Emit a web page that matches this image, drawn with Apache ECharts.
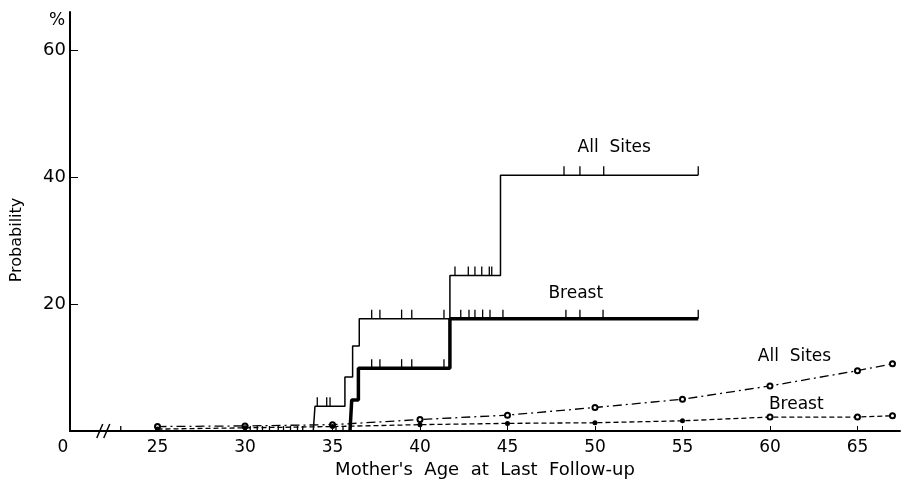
<!DOCTYPE html>
<html lang="en">
<head>
    <meta charset="UTF-8">
    <title>Probability by Mother's Age at Last Follow-up</title>
    <script src="https://cdn.jsdelivr.net/npm/echarts@6/dist/echarts.min.js"></script>
    <style>
        html, body { margin: 0; padding: 0; background: #fff; }
        #chart { width: 902px; height: 479px; }
    </style>
</head>
<body>
<div id="chart"></div>
<script>
    // observed step curves (age where the level starts, probability %)
    const allSitesAges = [33.9, 34.0, 35.71, 36.15, 36.53, 41.71, 44.6, 55.9];
    const allSitesProb = [0, 3.9, 8.5, 13.4, 17.7, 24.5, 40.3, 40.3];
    const breastAges = [36.0, 36.1, 36.48, 41.71, 55.9];
    const breastProb = [0, 4.9, 9.9, 17.7, 17.7];

    // censoring ticks [age, level]
    const allSitesCensored = [
        [34.13, 3.9], [34.67, 3.9], [34.86, 3.9],
        [37.24, 17.7], [37.71, 17.7], [38.95, 17.7], [39.53, 17.7], [41.37, 17.7],
        [42.0, 24.5], [42.76, 24.5], [43.14, 24.5], [43.53, 24.5], [43.96, 24.5], [44.1, 24.5],
        [48.23, 40.3], [49.14, 40.3], [50.5, 40.3], [55.9, 40.3]
    ];
    const breastCensored = [
        [37.24, 9.9], [37.71, 9.9], [38.95, 9.9], [39.53, 9.9], [41.37, 9.9],
        [42.33, 17.7], [42.8, 17.7], [43.14, 17.7], [43.58, 17.7], [44.0, 17.7], [44.74, 17.7],
        [48.34, 17.7], [49.14, 17.7], [50.46, 17.7], [55.9, 17.7]
    ];
    const baselineCensoredAges = [22.9, 30.3, 30.7, 31.0, 31.4, 31.9, 32.2, 32.6, 33.0, 33.3, 35.2, 35.6];

    // expected curves
    const expectedAges = [25, 30, 35, 40, 45, 50, 55, 60, 65, 67];
    const expectedAllSites = [0.7, 0.8, 1.0, 1.8, 2.5, 3.7, 5.0, 7.1, 9.5, 10.6];
    const expectedBreast = [0.3, 0.5, 0.7, 1.0, 1.2, 1.3, 1.6, 2.2, 2.2, 2.4];

    // curve labels [text, age, probability]
    const curveLabels = [
        ['All  Sites', 51.1, 44.7],
        ['Breast', 48.9, 21.7],
        ['All  Sites', 61.4, 11.8],
        ['Breast', 61.5, 4.2]
    ];

    const xTicks = [20, 25, 30, 35, 40, 45, 50, 55, 60, 65];
    const yTicks = [20, 40, 60];

    const font = 'DejaVu Sans';
    const zip = (xs, ys) => xs.map((x, i) => [x, ys[i]]);

    const tickSeries = (data) => ({
        type: 'scatter',
        data: data,
        symbol: 'rect',
        symbolSize: [1.3, 9],
        symbolOffset: [0, -4.5],
        itemStyle: { color: '#000', opacity: 1 },
        silent: true,
        z: 4
    });

    const chart = echarts.init(document.getElementById('chart'));
    const option = {
        animation: false,
        backgroundColor: '#fff',
        grid: { left: 70, right: 2, top: 12, bottom: 48, outerBoundsMode: 'none' },
        xAxis: {
            type: 'value',
            min: 20,
            max: 67.43,
            interval: 5,
            name: "Mother's  Age  at  Last  Follow-up",
            nameLocation: 'middle',
            nameGap: 25,
            nameTextStyle: { fontFamily: font, fontSize: 18, color: '#000' },
            axisLine: { lineStyle: { color: '#000', width: 2 } },
            axisTick: { inside: true, length: 5, customValues: xTicks.slice(1), lineStyle: { color: '#000' } },
            axisLabel: {
                customValues: xTicks,
                formatter: v => (v === 20 ? '{o|0}' : String(v)),
                rich: { o: { fontFamily: font, fontSize: 17, color: '#000', padding: [0, 14, 0, 0] } },
                fontFamily: font, fontSize: 17, color: '#000', margin: 8
            },
            splitLine: { show: false }
        },
        yAxis: {
            type: 'value',
            min: 0,
            max: 66,
            interval: 20,
            axisLine: { show: true, lineStyle: { color: '#000', width: 2 } },
            axisTick: { show: true, inside: true, length: 8, customValues: yTicks, lineStyle: { color: '#000' } },
            axisLabel: { customValues: yTicks, fontFamily: font, fontSize: 18, color: '#000', margin: 4 },
            splitLine: { show: false }
        },
        graphic: [
            { type: 'text', left: 49, top: 12, style: { text: '%', font: '17px ' + font, fill: '#000' } },
            {
                type: 'text', x: 17, y: 240, rotation: Math.PI / 2,
                style: { text: 'Probability', font: '16px ' + font, fill: '#000', align: 'center', verticalAlign: 'middle' }
            }
        ],
        series: [
            {
                name: 'All Sites observed',
                type: 'line',
                step: 'end',
                data: zip(allSitesAges, allSitesProb),
                showSymbol: false,
                lineStyle: { color: '#000', width: 1.5 },
                z: 3
            },
            {
                name: 'Breast observed',
                type: 'line',
                step: 'end',
                data: zip(breastAges, breastProb),
                showSymbol: false,
                lineStyle: { color: '#000', width: 3.5 },
                z: 3
            },
            tickSeries(allSitesCensored),
            tickSeries(breastCensored),
            Object.assign(tickSeries(baselineCensoredAges.map(a => [a, 0])), { symbolSize: [1.3, 5], symbolOffset: [0, -2.5] }),
            {
                name: 'All Sites expected',
                type: 'line',
                data: zip(expectedAges, expectedAllSites),
                symbol: 'emptyCircle',
                symbolSize: 5,
                itemStyle: { color: '#000', borderWidth: 1 },
                lineStyle: { color: '#000', width: 1.3, type: [9, 4, 2, 4] },
                z: 2
            },
            {
                name: 'Breast expected',
                type: 'line',
                data: zip(expectedAges, expectedBreast),
                symbol: v => (v[0] <= 55 ? 'circle' : 'emptyCircle'),
                symbolSize: 5,
                itemStyle: { color: '#000', borderWidth: 1 },
                lineStyle: { color: '#000', width: 1.3, type: [5, 3] },
                z: 2
            },
            {
                name: 'labels',
                type: 'scatter',
                data: curveLabels.map(l => ({ name: l[0], value: [l[1], l[2]] })),
                symbolSize: 0,
                silent: true,
                itemStyle: { opacity: 1 },
                label: {
                    show: true,
                    position: 'inside',
                    formatter: p => p.name,
                    fontFamily: font,
                    fontSize: 17,
                    color: '#000',
                    opacity: 1
                },
                z: 5
            }
        ]
    };
    chart.setOption(option);

    // axis break marks "//" near the origin
    const breakAges = [21.7, 22.1];
    const breaks = breakAges.map(a => {
        const p = chart.convertToPixel({ gridIndex: 0 }, [a, 0]);
        return {
            type: 'line',
            shape: { x1: p[0] - 3, y1: p[1] + 7, x2: p[0] + 3, y2: p[1] - 7 },
            style: { stroke: '#000', lineWidth: 1.5 }
        };
    });
    chart.setOption({ graphic: option.graphic.concat(breaks) });
</script>
</body>
</html>
